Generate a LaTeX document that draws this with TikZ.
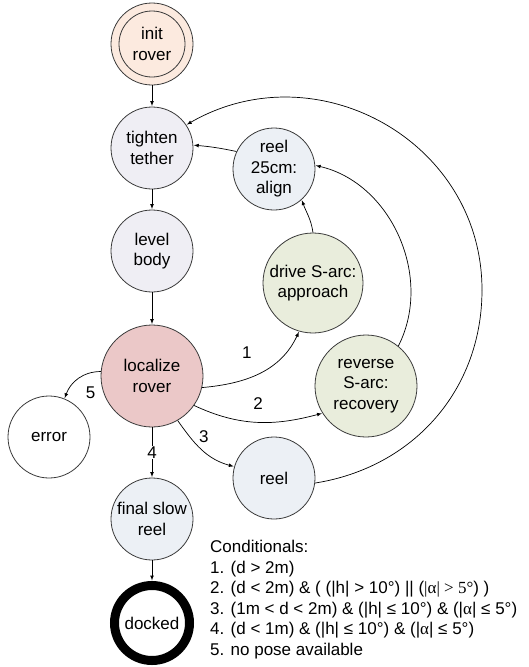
\documentclass[tikz,border=0pt]{standalone}
\usepackage{fontspec}
\setmainfont{Liberation Sans}
\newfontfamily\serifgreek{Liberation Serif}
\usepackage{tikz}

\definecolor{initfill}{HTML}{FCEADF}
\definecolor{tightfill}{HTML}{EFEEF4}
\definecolor{locfill}{HTML}{EBC8C8}
\definecolor{arcfill}{HTML}{E9EDDC}
\definecolor{reelfill}{HTML}{ECF0F5}
\definecolor{edgegray}{HTML}{3A3A3A}

\tikzset{
    state/.style={circle, draw=edgegray, line width=.8pt, inner sep=0pt, align=center,
        minimum size=82pt, font=\fontsize{17}{20.5}\selectfont},
    bigstate/.style={state, minimum size=102pt},
    trans/.style={->, >=latex, draw=black, line width=.7pt, shorten >=.5pt},
    cond/.style={font=\fontsize{17}{20.5}\selectfont, inner sep=0pt}
}

\begin{document}
\begin{tikzpicture}[x=1pt, y=1pt]
    \useasboundingbox (0,0) rectangle (528,-667);

    % states
    \node[state, fill=initfill] (init) at (152,-44) {init\\rover};
    \draw[edgegray, line width=.8pt] (init.center) circle[radius=33];
    \node[state, fill=tightfill] (tight) at (152,-148) {tighten\\tether};
    \node[state, fill=tightfill] (level) at (152,-251) {level\\body};
    \node[bigstate, fill=locfill] (loc) at (152,-376) {localize\\rover};
    \node[state] (err) at (49,-437) {error};
    \node[state, fill=reelfill] (final) at (152,-519) {final slow\\reel};
    \node[state, draw=black, line width=9pt, minimum size=75pt] (docked) at (152,-623) {docked};
    \node[state, fill=reelfill] (reel) at (274,-478) {reel};
    \node[bigstate, fill=arcfill] (rev) at (366,-386) {reverse\\S-arc:\\recovery};
    \node[bigstate, minimum size=100pt, fill=arcfill] (drive) at (313,-283) {drive S-arc:\\approach};
    \node[state, fill=reelfill] (align) at (274,-169) {reel\\25cm:\\align};
    \coordinate (loopR) at (482,-290);

    % transitions
    \draw[trans] (init) -- (tight);
    \draw[trans] (tight) -- (level);
    \draw[trans] (level) -- (loc);
    \draw[trans] (loc) -- node[cond, fill=white, inner sep=1pt] {4} (final);
    \draw[trans] (final) -- (docked);
    \draw[trans] (loc.175) to[out=180, in=70] node[cond, pos=.55, below right=1pt, xshift=8pt, yshift=-5pt] {5} (err.68);
    \draw[trans] (loc.-13) to[out=5, in=245] node[cond, pos=.45, above left=3pt, yshift=14pt] {1} (drive.-106);
    \draw[trans] (loc.-35) to[out=-25, in=195] node[cond, pos=.45, above=5pt, xshift=7pt, yshift=7pt] {2} (rev.-148);
    \draw[trans] (loc.-60) to[out=-55, in=165] node[cond, pos=.4, above right=2pt] {3} (reel.164);
    \draw[trans] (drive.90) to[out=98, in=-70] (align.-48);
    \draw[trans] (align.155) to[out=168, in=-5] (tight.4);
    \draw[trans] (rev.51) to[out=63, in=-13] (align.5);
    \draw[line width=.7pt] (reel.-7) to[out=9, in=-90] (loopR);
    \draw[trans] (loopR) to[out=90, in=30, looseness=1.13] (tight.34);

    % legend
    \node[cond, anchor=north west, align=left] (legend) at (210,-540) {Conditionals:\\
        1. (d > 2m)\\
        2. (d < 2m) \& ( (|h| > 10°) || ({\serifgreek|α| > 5°}) )\\
        3. (1m < d < 2m) \& (|h| ≤ 10°) \& (|{\serifgreek α}| ≤ 5°)\\
        4. (d < 1m) \& (|h| ≤ 10°) \& (|{\serifgreek α}| ≤ 5°)\\
        5. no pose available};
\end{tikzpicture}
\end{document}
